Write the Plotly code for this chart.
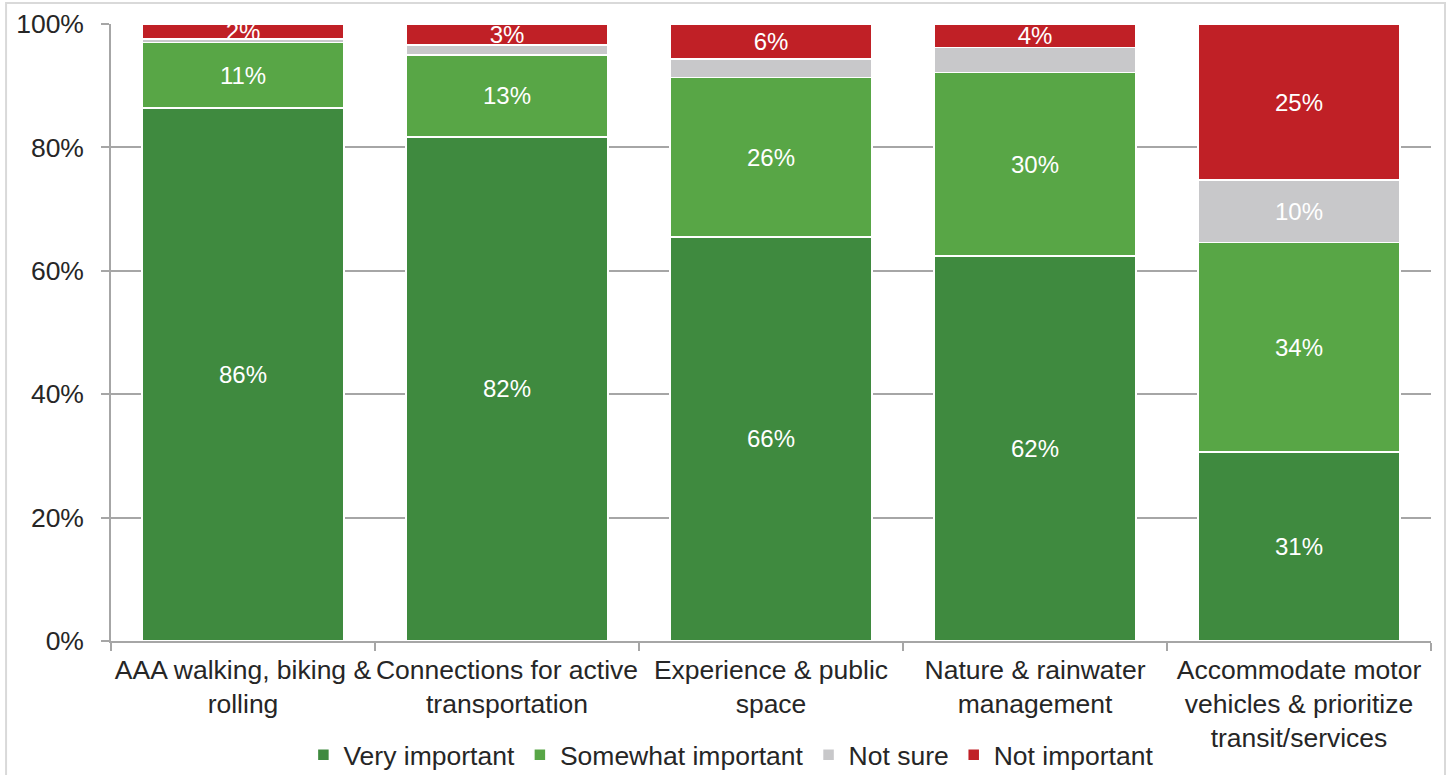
import plotly.graph_objects as go

# Survey: importance of each street design priority (share of respondents, %)
categories = [
    "AAA walking, biking &<br>rolling",
    "Connections for active<br>transportation",
    "Experience & public<br>space",
    "Nature & rainwater<br>management",
    "Accommodate motor<br>vehicles & prioritize<br>transit/services",
]
very_important = [86.4, 81.7, 65.5, 62.4, 30.6]
somewhat_important = [10.6, 13.3, 25.8, 29.7, 34.0]
not_sure = [0.6, 1.6, 3.0, 4.1, 10.1]
not_important = [2.4, 3.4, 5.7, 3.8, 25.3]

y_ticks = [0, 20, 40, 60, 80, 100]
y_tick_labels = ["0%", "20%", "40%", "60%", "80%", "100%"]

series = [
    ("Very important", very_important, "#3F8A3F", True),
    ("Somewhat important", somewhat_important, "#58A646", True),
    ("Not sure", not_sure, "#C8C8CA", False),
    ("Not important", not_important, "#C02026", True),
]

FONT = "Liberation Sans, Arial, sans-serif"
TEXT_COLOR = "#262626"
GRID = "#A6A6A6"

fig = go.Figure()
for name, vals, color, labelled in series:
    if labelled:
        templates = ["%{y:.0f}%"] * len(vals)
    else:
        # only the larger "Not sure" share carries a label
        templates = ["%{y:.0f}%" if v >= 8 else "" for v in vals]
    fig.add_trace(go.Bar(
        name=name,
        x=categories,
        y=vals,
        marker=dict(color=color, line=dict(color="white", width=1.5)),
        texttemplate=templates,
        textposition="inside",
        insidetextanchor="middle",
        constraintext="none",
        insidetextfont=dict(family=FONT, size=24, color="white"),
        hoverinfo="skip",
    ))

# light frame around the whole chart
fig.add_shape(
    type="rect", xref="paper", yref="paper",
    x0=-0.0795, x1=1.0106, y0=-0.23, y1=1.0340,
    line=dict(color="#D9D9D9", width=2), fillcolor="rgba(0,0,0,0)",
    layer="below",
)

fig.update_layout(
    barmode="stack",
    bargap=0.235,
    width=1453,
    height=775,
    margin=dict(l=111, r=22, t=24, b=134, autoexpand=False),
    paper_bgcolor="white",
    plot_bgcolor="white",
    font=dict(family=FONT, size=26.5, color=TEXT_COLOR),
    showlegend=True,
    legend=dict(
        orientation="h",
        x=0.470, xanchor="center",
        y=-0.185, yanchor="middle",
        font=dict(family=FONT, size=26.5, color=TEXT_COLOR),
        itemwidth=30,
        traceorder="normal",
        bgcolor="rgba(0,0,0,0)",
    ),
    xaxis=dict(
        showline=True, linecolor=GRID, linewidth=1.5,
        ticks="outside", tickson="boundaries", ticklen=8,
        tickcolor=GRID, tickwidth=1.5,
        showgrid=False,
        tickangle=0,
        automargin=False,
        ticklabelstandoff=4,
        tickfont=dict(family=FONT, size=26.5, color=TEXT_COLOR),
    ),
    yaxis=dict(
        range=[0, 100],
        tickvals=y_ticks,
        ticktext=y_tick_labels,
        showline=True, linecolor=GRID, linewidth=1.5,
        ticks="outside", ticklen=8, tickcolor=GRID, tickwidth=1.5,
        showgrid=True, gridcolor=GRID, gridwidth=1.5,
        zeroline=False,
        automargin=False,
        ticklabelstandoff=12,
        tickfont=dict(family=FONT, size=26.5, color=TEXT_COLOR),
    ),
)

fig.write_html("out.html")
